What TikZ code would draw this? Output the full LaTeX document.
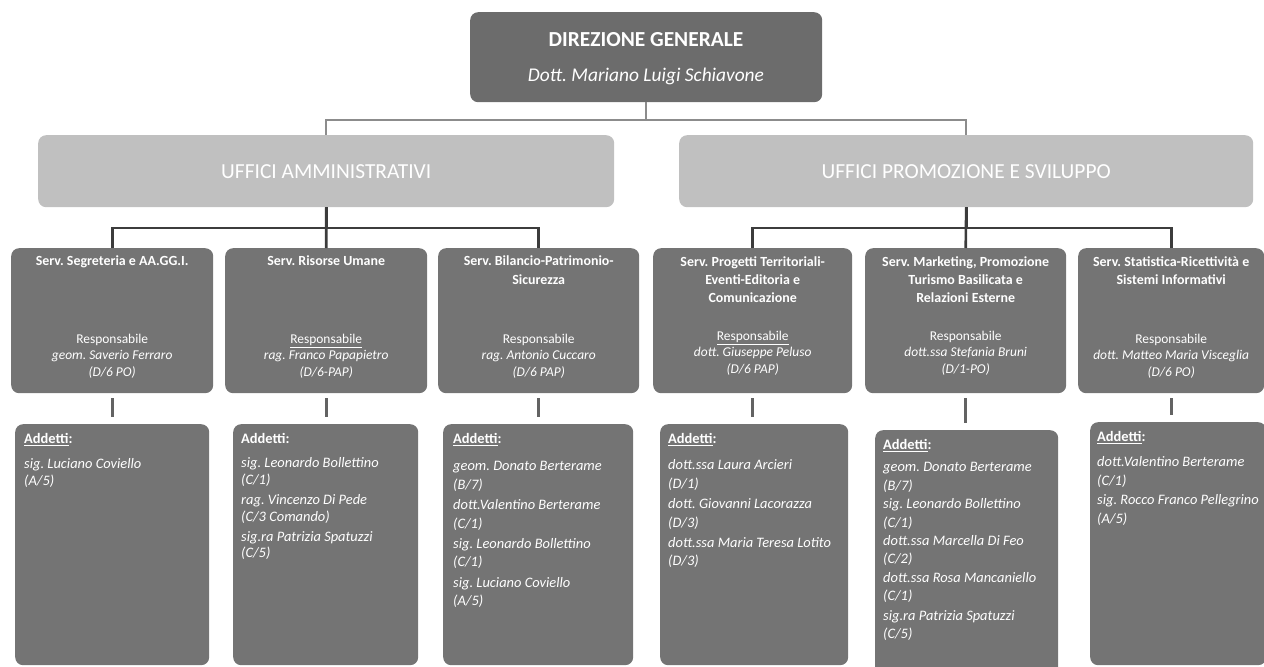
\documentclass[tikz,border=0pt]{standalone}
\usepackage{fontspec}
\setmainfont{Carlito}
\definecolor{topgray}{RGB}{108,108,108}
\definecolor{midgray}{RGB}{192,192,192}
\definecolor{boxgray}{RGB}{116,116,116}
\definecolor{linegray}{RGB}{140,140,140}
\definecolor{darkline}{RGB}{60,60,60}
\tikzset{
  gbox/.style={rounded corners=8bp, inner sep=0pt, anchor=north west},
  topbox/.style={gbox, fill=topgray},
  officebox/.style={gbox, fill=midgray},
  servbox/.style={gbox, fill=boxgray},
  stitle/.style={anchor=north, align=center, text=white, inner sep=0pt,
    font=\fontsize{14}{18.5}\selectfont\bfseries},
  sresp/.style={anchor=north, align=center, text=white, inner sep=0pt,
    font=\fontsize{13.5}{16.5}\selectfont},
  addt/.style={anchor=north west, align=left, text=white, inner sep=0pt,
    font=\fontsize{14.5}{18.5}\selectfont\itshape},
  thinlink/.style={draw=linegray, line width=1.6bp},
  thicklink/.style={draw=darkline, line width=2.6bp},
  droplink/.style={draw=darkline!80!white, line width=3bp},
}
\newcommand{\Add}{{\upshape\bfseries\underline{Addetti}:}}
\newcommand{\AddNU}{{\upshape\bfseries Addetti:}}
\begin{document}
\frenchspacing
\begin{tikzpicture}[x=1bp,y=-1bp]
\useasboundingbox (0,0) rectangle (1264,667);
% top
\node[topbox, minimum width=352bp, minimum height=90bp] (dg) at (470,12) {};
\node[text=white, inner sep=0pt, font=\fontsize{21.5}{24}\selectfont\bfseries] (dgt) at (646,40) {DIREZIONE GENERALE};
\node[text=white, inner sep=0pt, font=\fontsize{19.5}{22}\selectfont\itshape] (dgn) at (646,76) {Dott. Mariano Luigi Schiavone};
% offices
\node[officebox, minimum width=576bp, minimum height=72bp] (ua) at (38,135) {};
\node[officebox, minimum width=574bp, minimum height=72bp] (up) at (679,135) {};
\node[text=white, inner sep=0pt, font=\fontsize{21.5}{24}\selectfont] (uat) at (ua.center) {UFFICI AMMINISTRATIVI};
\node[text=white, inner sep=0pt, font=\fontsize{21.5}{24}\selectfont] (upt) at (up.center) {UFFICI PROMOZIONE E SVILUPPO};
% services
\foreach \n/\x/\w in {1/11/202, 2/225/202, 3/438/201, 4/653/199, 5/865/201, 6/1078/186}
  \node[servbox, minimum width=\w bp, minimum height=145bp] (s\n) at (\x,248) {};
% addetti boxes
\node[servbox, minimum width=194bp, minimum height=241bp] (a1) at (15,424) {};
\node[servbox, minimum width=185bp, minimum height=241bp] (a2) at (233,424) {};
\node[servbox, minimum width=190bp, minimum height=241bp] (a3) at (443,424) {};
\node[servbox, minimum width=188bp, minimum height=241bp] (a4) at (660,424) {};
\node[servbox, minimum width=183bp, minimum height=250bp] (a5) at (875,430) {};
\node[servbox, minimum width=176bp, minimum height=243bp] (a6) at (1090,422) {};
% connectors
\draw[thinlink] (dg.south) -- (dg.south |- 0,120) -| (ua.north);
\draw[thinlink] (dg.south) -- (dg.south |- 0,120) -| (up.north);
\draw[thicklink] (ua.south) -- (ua.south |- 0,228) -| (s1.north);
\draw[thicklink] (ua.south) -- (s2.north);
\draw[thicklink] (ua.south) -- (ua.south |- 0,228) -| (s3.north);
\draw[thicklink] (up.south) -- (up.south |- 0,228) -| (s4.north);
\draw[thicklink] (up.south) -- (s5.north);
\draw[thicklink] (up.south) -- (up.south |- 0,228) -| (s6.north);
\foreach \n in {1,...,6}
  \draw[droplink, shorten <=5bp, shorten >=7bp] (s\n.south) -- (s\n.south |- a\n.north);
% service titles
\node[stitle] (s1t) at ([yshift=-8bp]s1.north) {Serv. Segreteria e AA.GG.I.};
\node[stitle] (s2t) at ([yshift=-8bp]s2.north) {Serv. Risorse Umane};
\node[stitle] (s3t) at ([yshift=-8bp]s3.north) {Serv. Bilancio-Patrimonio-\\Sicurezza};
\node[stitle] (s4t) at ([yshift=-8bp]s4.north) {Serv. Progetti Territoriali-\\Eventi-Editoria e\\Comunicazione};
\node[stitle] (s5t) at ([yshift=-8bp]s5.north) {Serv. Marketing, Promozione\\Turismo Basilicata e\\Relazioni Esterne};
\node[stitle] (s6t) at ([yshift=-8bp]s6.north) {Serv. Statistica-Ricettività e\\Sistemi Informativi};
% responsabili
\node[sresp] (s1r) at ([yshift=-86bp]s1.north) {Responsabile\\\textit{geom. Saverio Ferraro}\\\textit{(D/6 PO)}};
\node[sresp] (s2r) at ([yshift=-86bp]s2.north) {\underline{Responsabile}\\\textit{rag. Franco Papapietro}\\\textit{(D/6-PAP)}};
\node[sresp] (s3r) at ([yshift=-86bp]s3.north) {Responsabile\\\textit{rag. Antonio Cuccaro}\\\textit{(D/6 PAP)}};
\node[sresp] (s4r) at ([yshift=-83bp]s4.north) {\underline{Responsabile}\\\textit{dott. Giuseppe Peluso}\\\textit{(D/6 PAP)}};
\node[sresp] (s5r) at ([yshift=-83bp]s5.north) {Responsabile\\\textit{dott.ssa Stefania Bruni}\\\textit{(D/1-PO)}};
\node[sresp] (s6r) at ([yshift=-86bp]s6.north) {Responsabile\\\textit{dott. Matteo Maria Visceglia}\\\textit{(D/6 PO)}};
% addetti text
\node[addt] (a1t) at ([xshift=9bp,yshift=-9bp]a1.north west) {\Add\\[7bp]sig. Luciano Coviello\\[-2bp](A/5)};
\node[addt] (a2t) at ([xshift=8bp,yshift=-9bp]a2.north west) {\AddNU\\[6bp]sig. Leonardo Bollettino\\[-2bp](C/1)\\[2bp]rag. Vincenzo Di Pede\\[-2bp](C/3 Comando)\\[2bp]sig.ra Patrizia Spatuzzi\\[-2bp](C/5)};
\node[addt] (a3t) at ([xshift=10bp,yshift=-9bp]a3.north west) {\Add\\[9bp]geom. Donato Berterame\\(B/7)\\[2bp]dott.Valentino Berterame\\(C/1)\\[2bp]sig. Leonardo Bollettino\\(C/1)\\[2bp]sig. Luciano Coviello\\(A/5)};
\node[addt] (a4t) at ([xshift=8bp,yshift=-9bp]a4.north west) {\Add\\[8bp]dott.ssa Laura Arcieri\\(D/1)\\[2bp]dott. Giovanni Lacorazza\\(D/3)\\[2bp]dott.ssa Maria Teresa Lotito\\(D/3)};
\node[addt] (a5t) at ([xshift=8bp,yshift=-9bp]a5.north west) {\Add\\[4bp]geom. Donato Berterame\\(B/7)\\[0bp]sig. Leonardo Bollettino\\(C/1)\\[0bp]dott.ssa Marcella Di Feo\\(C/2)\\[0bp]dott.ssa Rosa Mancaniello\\(C/1)\\[1bp]sig.ra Patrizia Spatuzzi\\(C/5)};
\node[addt] (a6t) at ([xshift=7bp,yshift=-9bp]a6.north west) {\Add\\[7bp]dott.Valentino Berterame\\(C/1)\\[1bp]sig. Rocco Franco Pellegrino\\(A/5)};
\end{tikzpicture}
\end{document}
